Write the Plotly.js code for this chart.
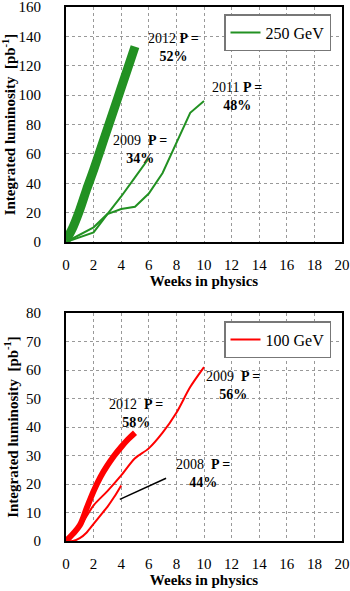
<!DOCTYPE html>
<html>
<head>
<meta charset="utf-8">
<script src="https://cdn.plot.ly/plotly-3.0.1.min.js"></script>
<style>html,body{margin:0;padding:0;background:#fff;}#chart{width:350px;height:591px;}</style>
</head>
<body>
<div id="chart"></div>
<script>
// ---- 250 GeV (top panel) ----
const weeks2012_250 = [0, 0.5, 1, 1.5, 2, 2.5, 3, 3.5, 4, 4.5, 5];
const lumi2012_250  = [1, 10, 22, 36, 49, 63, 77, 91, 105, 119, 133];
const weeks2011_250 = [0, 1, 2, 3, 4, 5, 6, 7, 8, 9, 10];
const lumi2011_250  = [0, 3, 6.5, 19, 22.5, 24, 33, 47, 68, 88, 96];
const weeks2009_250 = [0, 1, 2, 3, 4, 5, 6];
const lumi2009_250  = [0, 5, 10, 19, 31, 44, 57];

// ---- 100 GeV (bottom panel) ----
const weeks2012_100 = [0, 0.5, 1, 1.5, 2, 2.5, 3, 3.5, 4, 4.5, 5];
const lumi2012_100  = [0, 2.5, 5.5, 11.5, 17.5, 22.5, 26.5, 30, 33, 35.7, 38];
const weeks2009_100 = [0, 1, 2, 3, 4, 5, 6, 7, 8, 9, 10];
const lumi2009_100  = [0, 5, 12.5, 17.5, 23, 29, 32.5, 38, 45, 54, 61];
const weeks2008_100 = [0, 0.5, 1, 1.5, 2, 2.5, 3, 3.5, 4];
const lumi2008_100  = [0, 0, 1, 3, 6, 9, 12, 15.5, 19.5];

const xTicks = [0, 2, 4, 6, 8, 10, 12, 14, 16, 18, 20];
const yTicksTop = [0, 20, 40, 60, 80, 100, 120, 140, 160];
const yTicksBottom = [0, 10, 20, 30, 40, 50, 60, 70, 80];

const green = 'rgb(34,145,34)';
const red = 'rgb(255,0,0)';
const serif = 'Liberation Serif';

const traces = [
  {x: weeks2012_250, y: lumi2012_250, xaxis: 'x', yaxis: 'y', mode: 'lines',
   line: {color: green, width: 9, shape: 'spline', smoothing: 0.8}, showlegend: false},
  {x: weeks2011_250, y: lumi2011_250, xaxis: 'x', yaxis: 'y', mode: 'lines',
   line: {color: green, width: 2}, name: '250 GeV', legend: 'legend', showlegend: true},
  {x: weeks2009_250, y: lumi2009_250, xaxis: 'x', yaxis: 'y', mode: 'lines',
   line: {color: green, width: 2}, showlegend: false},
  {x: weeks2012_100, y: lumi2012_100, xaxis: 'x2', yaxis: 'y2', mode: 'lines',
   line: {color: red, width: 6, shape: 'spline', smoothing: 1}, showlegend: false},
  {x: weeks2009_100, y: lumi2009_100, xaxis: 'x2', yaxis: 'y2', mode: 'lines',
   line: {color: red, width: 2, shape: 'spline', smoothing: 0.8}, name: '100 GeV', legend: 'legend2', showlegend: true},
  {x: weeks2008_100, y: lumi2008_100, xaxis: 'x2', yaxis: 'y2', mode: 'lines',
   line: {color: red, width: 2, shape: 'spline', smoothing: 0.8}, showlegend: false}
];

function xAxis(anchor) {
  return {
    domain: [66/350, 342/350], anchor: anchor, range: [0, 20],
    tickvals: xTicks, ticktext: xTicks.map(String), ticks: '',
    showline: true, linecolor: '#000', linewidth: 2, mirror: true,
    showgrid: true, gridcolor: '#999', gridwidth: 1, griddash: 'dot',
    zeroline: false, ticklabelstandoff: 8, ticklabeloverflow: 'allow',
    tickfont: {family: serif, size: 15, color: '#000'},
    title: {text: '<b>Weeks in physics</b>', font: {family: serif, size: 15, color: '#000'}, standoff: 2}
  };
}
function yAxis(anchor, dom, range, ticks) {
  return {
    domain: dom, anchor: anchor, range: range,
    tickvals: ticks, ticktext: ticks.map(String), ticks: '',
    showline: true, linecolor: '#000', linewidth: 2, mirror: true,
    showgrid: true, gridcolor: '#999', gridwidth: 1, griddash: 'dot',
    zeroline: false, ticklabelstandoff: 20, ticklabeloverflow: 'allow',
    tickfont: {family: serif, size: 15, color: '#000'},
    title: {text: '<b>Integrated luminosity  [pb<sup>-1</sup>]</b>', font: {family: serif, size: 15, color: '#000'}, standoff: 4}
  };
}

const annFont = {family: serif, size: 14, color: '#000'};
function ann(xr, yr, x, y, text) {
  return {xref: xr, yref: yr, x: x, y: y, text: text, showarrow: false,
          font: annFont, align: 'center', xanchor: 'center', yanchor: 'middle'};
}

const layout = {
  width: 350, height: 591,
  margin: {l: 0, r: 0, t: 0, b: 0},
  paper_bgcolor: '#fff', plot_bgcolor: '#fff',
  font: {family: serif},
  xaxis: xAxis('y'),
  yaxis: yAxis('x', [1 - 242/591, 1 - 7/591], [0, 160], yTicksTop),
  xaxis2: xAxis('y2'),
  yaxis2: yAxis('x2', [1 - 541/591, 1 - 313/591], [0, 80], yTicksBottom),
  legend: {x: 224/350, y: 1 - 14/591, xanchor: 'left', yanchor: 'top',
           bgcolor: '#fff', bordercolor: '#777', borderwidth: 1.5,
           font: {family: serif, size: 16, color: '#000'}, itemwidth: 30},
  legend2: {x: 224/350, y: 1 - 321/591, xanchor: 'left', yanchor: 'top',
           bgcolor: '#fff', bordercolor: '#777', borderwidth: 1.5,
           font: {family: serif, size: 16, color: '#000'}, itemwidth: 30},
  annotations: [
    ann('x', 'y', 7.8, 132.5, '2012 <b>P =</b><br><b>52%</b>'),
    ann('x', 'y', 12.4, 99, '2011 <b>P =</b><br><b>48%</b>'),
    ann('x', 'y', 5.35, 63, '2009  <b>P =</b><br><b>34%</b>'),
    ann('x2', 'y2', 5.07, 44.9, '2012  <b>P =</b><br><b>58%</b>'),
    ann('x2', 'y2', 12.1, 54.7, '2009  <b>P =</b><br><b>56%</b>'),
    ann('x2', 'y2', 9.93, 23.7, '2008  <b>P =</b><br><b>44%</b>')
  ],
  shapes: [
    {type: 'line', xref: 'x2', yref: 'y2', x0: 3.9, y0: 14.6, x1: 7.25, y1: 22,
     line: {color: '#000', width: 1.5}}
  ]
};

Plotly.newPlot('chart', traces, layout, {displayModeBar: false, staticPlot: true});
</script>
</body>
</html>
